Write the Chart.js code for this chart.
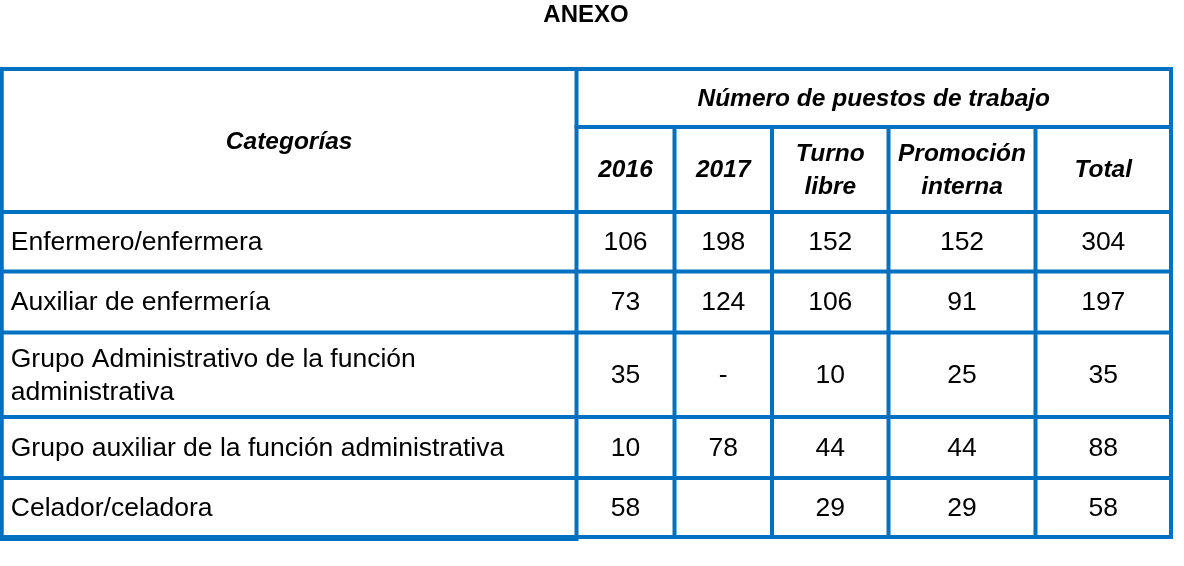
<!DOCTYPE html>
<html>
<head>
<meta charset="utf-8">
<script src="https://cdn.jsdelivr.net/npm/chart.js@4/dist/chart.umd.min.js"></script>
<style>
html,body{margin:0;padding:0;background:#fff;overflow:hidden}
#wrap{position:relative;width:1184px;height:566px}
</style>
</head>
<body>
<div id="wrap"><canvas id="c"></canvas></div>
<script>
// ---- data ----
const titleText = 'ANEXO';
const categoryHeader = 'Categorías';
const groupHeader = 'Número de puestos de trabajo';
const columnHeaders = ['2016', '2017', ['Turno', 'libre'], ['Promoción', 'interna'], 'Total'];
const categories = [
  'Enfermero/enfermera',
  'Auxiliar de enfermería',
  ['Grupo Administrativo de la función', 'administrativa'],
  'Grupo auxiliar de la función administrativa',
  'Celador/celadora'
];
const values2016 = [106, 73, 35, 10, 58];
const values2017 = [198, 124, '-', 78, ''];
const turnoLibre = [152, 106, 10, 44, 29];
const promocionInterna = [152, 91, 25, 44, 29];
const total = [304, 197, 35, 88, 58];

// ---- layout (table geometry in scale units) ----
const colEdges = [1.75, 576.5, 674.5, 772, 888.5, 1035.5, 1171];
const rowEdges = [69, 127, 212, 271.5, 332.5, 417, 478, 537];
const BORDER = '#0070C0';
const BODY_FONT = '26.5px "Liberation Sans", Arial, sans-serif';
const HEAD_FONT = 'italic bold 24.5px "Liberation Sans", Arial, sans-serif';
const LINE_GAP = 33;

const seriesList = [values2016, values2017, turnoLibre, promocionInterna, total];
const colCenter = c => (colEdges[c] + colEdges[c + 1]) / 2;
const rowCenter = r => (rowEdges[r] + rowEdges[r + 1]) / 2;

const datasets = [{
  label: 'Categorías',
  labels: categories,
  align: 'left',
  data: categories.map((c, i) => ({x: colEdges[0] + 9, y: rowCenter(i + 2)})),
  pointRadius: 0
}].concat(seriesList.map((s, j) => ({
  label: Array.isArray(columnHeaders[j]) ? columnHeaders[j].join(' ') : columnHeaders[j],
  labels: s,
  align: 'center',
  data: s.map((v, i) => ({x: colCenter(j + 1), y: rowCenter(i + 2)})),
  pointRadius: 0
})));

function drawLines(ctx, lines, px, py, align) {
  const arr = Array.isArray(lines) ? lines : [lines];
  ctx.textAlign = align;
  arr.forEach((t, k) => {
    ctx.fillText(String(t), px, py + (k - (arr.length - 1) / 2) * LINE_GAP);
  });
}

const tablePlugin = {
  id: 'tablePlugin',
  afterDatasetsDraw(chart) {
    const {ctx} = chart;
    const xs = chart.scales.x, ys = chart.scales.y;
    const X = v => xs.getPixelForValue(v);
    const Y = v => ys.getPixelForValue(v);
    ctx.save();
    // borders
    ctx.fillStyle = BORDER;
    const w = 4;
    const h = (yv, a, b, lw = w) => {
      const py = Y(yv), pa = X(colEdges[a]), pb = X(colEdges[b]);
      ctx.fillRect(pa - w / 2, py - lw / 2, pb - pa + w, lw);
    };
    const v = (xv, a, b) => {
      const px = X(xv), pa = Y(rowEdges[a]), pb = Y(rowEdges[b]);
      ctx.fillRect(px - w / 2, pa - w / 2, w, pb - pa + w);
    };
    h(rowEdges[0], 0, 6);
    h(rowEdges[1], 1, 6);
    for (let r = 2; r < rowEdges.length - 1; r++) h(rowEdges[r], 0, 6);
    h(rowEdges[rowEdges.length - 1], 1, 6);
    h(rowEdges[rowEdges.length - 1] + 1, 0, 1, 6);
    v(colEdges[0], 0, rowEdges.length - 1);
    v(colEdges[1], 0, rowEdges.length - 1);
    for (let c = 2; c < colEdges.length - 1; c++) v(colEdges[c], 1, rowEdges.length - 1);
    v(colEdges[6], 0, rowEdges.length - 1);

    // headers
    ctx.fillStyle = '#000';
    ctx.textBaseline = 'middle';
    ctx.font = HEAD_FONT;
    drawLines(ctx, categoryHeader, X(colCenter(0)), Y((rowEdges[0] + rowEdges[2]) / 2) + 1.5, 'center');
    drawLines(ctx, groupHeader, X((colEdges[1] + colEdges[6]) / 2), Y(rowCenter(0)) + 1, 'center');
    columnHeaders.forEach((t, j) => {
      drawLines(ctx, t, X(colCenter(j + 1)), Y(rowCenter(1)) + 1, 'center');
    });

    // body cells from dataset elements
    ctx.font = BODY_FONT;
    chart.data.datasets.forEach((ds, d) => {
      const meta = chart.getDatasetMeta(d);
      meta.data.forEach((el, i) => {
        const val = ds.labels[i];
        if (val === null || val === undefined || val === '') return;
        drawLines(ctx, val, el.x, el.y + 1, ds.align);
      });
    });
    ctx.restore();
  }
};

new Chart(document.getElementById('c'), {
  type: 'scatter',
  data: {datasets},
  options: {
    responsive: true,
    maintainAspectRatio: false,
    animation: false,
    events: [],
    layout: {padding: {left: 0, right: 12, top: 0, bottom: 0}},
    plugins: {
      legend: {display: false},
      tooltip: {enabled: false},
      title: {
        display: true,
        text: titleText,
        color: '#000',
        font: {family: '"Liberation Sans", Arial, sans-serif', size: 24, weight: 'bold', lineHeight: 1.25},
        padding: 0,
        align: 'center'
      }
    },
    scales: {
      x: {type: 'linear', min: 0, max: 1172, display: false},
      y: {type: 'linear', min: 30, max: 566, reverse: true, display: false}
    }
  },
  plugins: [tablePlugin]
});
</script>
</body>
</html>
